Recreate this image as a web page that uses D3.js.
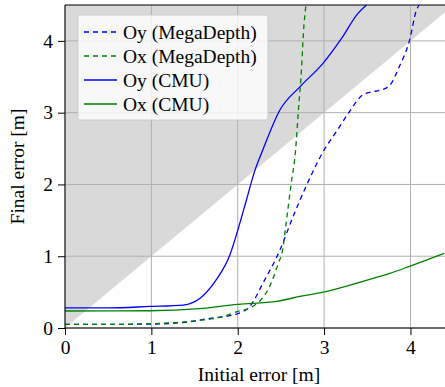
<!DOCTYPE html>
<html><head><meta charset="utf-8">
<script src="https://cdn.jsdelivr.net/npm/d3@7"></script>
<style>body{margin:0;background:#fff}svg{display:block}</style>
</head><body><svg id="c" width="445" height="387" font-family="Liberation Serif" style="font-family:'Liberation Serif'"></svg>
<script>
const xTicks = [0,1,2,3,4];
const yTicks = [0,1,2,3,4];
const oyMegaX = [0,0.5,1.0,1.4,1.68,1.85,2.0,2.14,2.29,2.49,2.64,2.79,3.0,3.15,3.28,3.45,3.55,3.64,3.76,3.87,3.99,4.07,4.1];
const oyMegaY = [0.05,0.05,0.055,0.08,0.135,0.16,0.2,0.3,0.62,1.09,1.55,1.97,2.48,2.75,2.99,3.25,3.29,3.31,3.38,3.64,4.01,4.43,4.5];
const oxMegaX = [0,0.5,1.0,1.5,1.8,2.0,2.14,2.25,2.37,2.47,2.52,2.56,2.62,2.67,2.70,2.74,2.76,2.79];
const oxMegaY = [0.05,0.05,0.06,0.1,0.15,0.23,0.28,0.37,0.58,0.9,1.09,1.46,2.02,2.48,2.99,3.64,4.1,4.5];
const oyCmuX = [0,0.5,0.98,1.37,1.56,1.75,1.91,2.0,2.10,2.2,2.29,2.49,2.72,2.99,3.2,3.39,3.49];
const oyCmuY = [0.28,0.28,0.30,0.32,0.41,0.67,1.02,1.36,1.78,2.2,2.48,3.04,3.36,3.69,4.03,4.38,4.5];
const oxCmuX = [0,0.5,0.98,1.56,2.0,2.45,2.72,2.99,3.45,3.76,3.99,4.39];
const oxCmuY = [0.237,0.238,0.24,0.27,0.33,0.37,0.44,0.5,0.65,0.76,0.86,1.04];
const seriesNames = ["Oy (MegaDepth)","Ox (MegaDepth)","Oy (CMU)","Ox (CMU)"];
const seriesColors = ["#0000ff","#008000","#0000ff","#008000"];
const seriesDash = ["5,4","5,4",null,null];

const series = [
  {x:oyMegaX,y:oyMegaY},{x:oxMegaX,y:oxMegaY},{x:oyCmuX,y:oyCmuY},{x:oxCmuX,y:oxCmuY}
].map((s,i)=>({name:seriesNames[i],color:seriesColors[i],dash:seriesDash[i],pts:s.x.map((v,j)=>[v,s.y[j]])}));

const L=65,R=445,T=5,B=328;
const x=d3.scaleLinear().domain([0,4.4]).range([L,R]);
const y=d3.scaleLinear().domain([0,4.5]).range([B,T]);
const svg=d3.select("#c");
const FS=19.5, FF="Liberation Serif";
function font(sel){return sel.attr("font-family",FF).attr("font-size",FS).style("font-family",`"${FF}"`).style("font-size",FS+"px");}
svg.append("defs").append("clipPath").attr("id","clip").append("rect")
  .attr("x",L).attr("y",T).attr("width",R-L).attr("height",B-T);
svg.append("path").attr("clip-path","url(#clip)")
  .attr("d",d3.line()([[x(0),y(0)],[x(4.5),y(4.5)],[x(0),y(4.5)]]))
  .attr("fill","#d9d9d9");
svg.append("g").selectAll("line").data(xTicks).join("line")
  .attr("x1",d=>x(d)).attr("x2",d=>x(d)).attr("y1",T).attr("y2",B)
  .attr("stroke","#b0b0b0").attr("stroke-width",1);
svg.append("g").selectAll("line").data(yTicks).join("line")
  .attr("x1",L).attr("x2",R).attr("y1",d=>y(d)).attr("y2",d=>y(d))
  .attr("stroke","#b0b0b0").attr("stroke-width",1);
const line=d3.line().x(d=>x(d[0])).y(d=>y(d[1])).curve(d3.curveMonotoneX);
svg.append("g").attr("clip-path","url(#clip)").selectAll("path").data(series).join("path")
  .attr("d",d=>line(d.pts)).attr("fill","none").attr("stroke",d=>d.color)
  .attr("stroke-width",1.3).attr("stroke-dasharray",d=>d.dash);
const xa=svg.append("g").attr("transform",`translate(0,${B})`)
  .call(d3.axisBottom(x).tickValues(xTicks).tickFormat(d3.format("d")).tickSize(7).tickPadding(5));
const ya=svg.append("g").attr("transform",`translate(${L},0)`)
  .call(d3.axisLeft(y).tickValues(yTicks).tickFormat(d3.format("d")).tickSize(7).tickPadding(5));
[xa,ya].forEach(a=>{a.select(".domain").remove();font(a);font(a.selectAll("text")).attr("fill","#000");a.selectAll("line").attr("stroke","#000");});
svg.append("line").attr("x1",L).attr("x2",L).attr("y1",T).attr("y2",B).attr("stroke","#000");
svg.append("line").attr("x1",L).attr("x2",R).attr("y1",B).attr("y2",B).attr("stroke","#000");
svg.append("line").attr("x1",L).attr("x2",R).attr("y1",T).attr("y2",T).attr("stroke","#000");
font(svg.append("text").attr("x",(L+R)/2+4).attr("y",381).attr("text-anchor","middle")).text("Initial error [m]");
font(svg.append("text").attr("transform",`translate(24,${(T+B)/2}) rotate(-90)`).attr("text-anchor","middle")).text("Final error [m]");
const lg=svg.append("g");
lg.append("rect").attr("x",78).attr("y",15).attr("width",190).attr("height",105).attr("rx",2)
  .attr("fill","#fff").attr("fill-opacity",0.8).attr("stroke","#cccccc");
const rows=lg.selectAll("g").data(series).join("g").attr("transform",(d,i)=>`translate(0,${32+i*24})`);
rows.append("line").attr("x1",84).attr("x2",117).attr("y1",0).attr("y2",0)
  .attr("stroke",d=>d.color).attr("stroke-width",1.3).attr("stroke-dasharray",d=>d.dash);
font(rows.append("text").attr("x",123).attr("y",7)).text(d=>d.name);
</script></body></html>
